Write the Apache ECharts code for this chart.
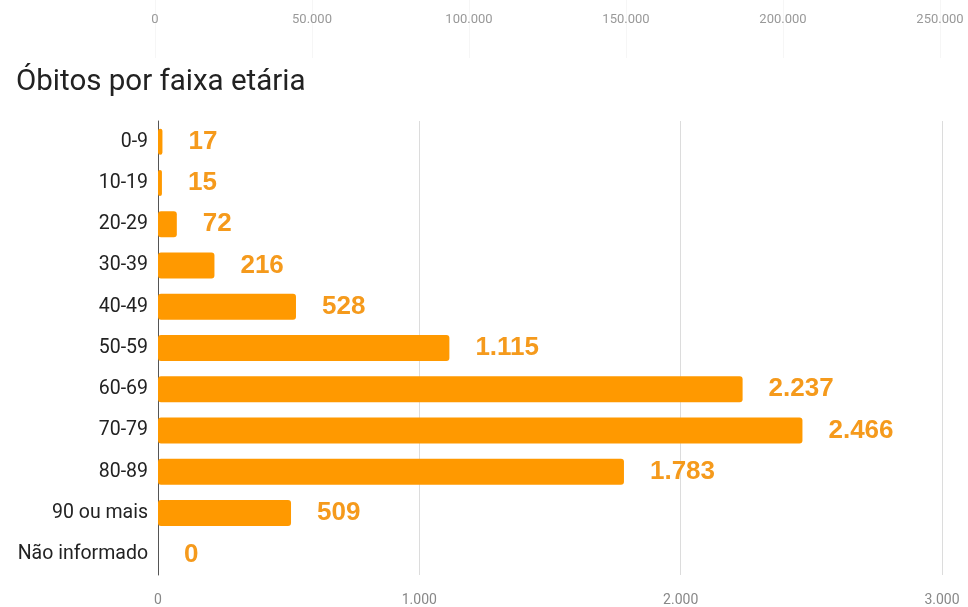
<!DOCTYPE html>
<html><head><meta charset="utf-8">
<script src="https://cdn.jsdelivr.net/npm/echarts@6/dist/echarts.min.js"></script>
<style>html,body{margin:0;padding:0;background:#fff}#c{width:968px;height:607px}</style>
</head><body><div id="c"></div>
<script>
const categories = ['0-9','10-19','20-29','30-39','40-49','50-59','60-69','70-79','80-89','90 ou mais','Não informado'];
const deaths = [17,15,72,216,528,1115,2237,2466,1783,509,0];
const topTicks = [0,50000,100000,150000,200000,250000];
const title = 'Óbitos por faixa etária';

const fmt = v => Number(v).toLocaleString('de-DE');
const chart = echarts.init(document.getElementById('c'));
chart.setOption({
  backgroundColor:'#fff',
  animation:false,
  title:{text:title,left:11,top:63,textStyle:{fontFamily:'Roboto',fontSize:29.5,fontWeight:'normal',color:'#222'}},
  grid:[
    {left:158,right:26,top:121,height:455,containLabel:false},
    {left:155,right:28,top:0,height:58}
  ],
  xAxis:[
    {gridIndex:0,type:'value',min:0,max:3000,interval:1000,
     axisLine:{show:false},axisTick:{show:false},
     splitLine:{lineStyle:{color:'#dcdcdc',width:1}},
     axisLabel:{color:'#888',fontFamily:'Roboto',fontSize:14,margin:18,formatter:fmt}},
    {gridIndex:1,type:'value',min:topTicks[0],max:topTicks[topTicks.length-1],interval:50000,position:'top',
     axisLine:{show:false},axisTick:{show:false},
     splitLine:{lineStyle:{color:'#f6f6f6'}},
     axisLabel:{inside:true,color:'#999',fontFamily:'Roboto',fontSize:13,margin:13,formatter:fmt}}
  ],
  yAxis:[
    {gridIndex:0,type:'category',data:categories,inverse:true,
     axisLine:{show:true,lineStyle:{color:'#555',width:1}},axisTick:{show:false},
     axisLabel:{color:'#222',fontFamily:'Roboto',fontSize:19.5,margin:10}},
    {gridIndex:1,type:'category',data:[''],show:false}
  ],
  series:[{
    type:'bar',xAxisIndex:0,yAxisIndex:0,data:deaths,barWidth:26,
    itemStyle:{color:'#ff9900',borderRadius:3},
    label:{show:true,position:'right',distance:26,color:'#f59a1c',fontFamily:'Liberation Sans',fontWeight:'bold',fontSize:26,formatter:p=>fmt(p.value)}
  }]
});
</script></body></html>
